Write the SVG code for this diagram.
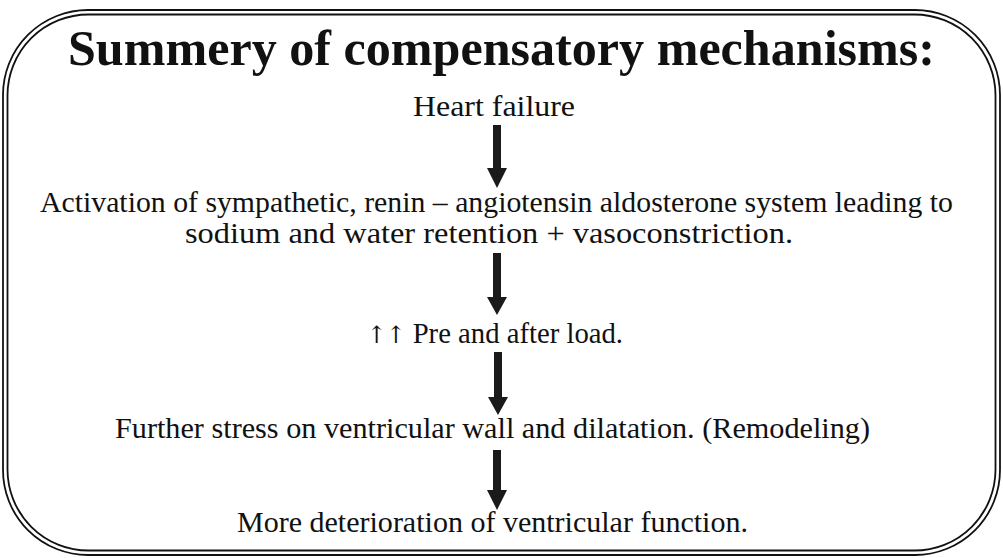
<svg xmlns="http://www.w3.org/2000/svg" width="1003" height="558" viewBox="0 0 1003 558">
<style>
.frame{fill:none;stroke:#111;stroke-width:1.8}
.t{font-family:"Liberation Serif","Times New Roman",serif;font-size:30px;fill:#111}
.sym{font-family:"DejaVu Serif","DejaVu Sans",serif;font-size:24px;fill:#111}
.title{font-family:"Liberation Serif","Times New Roman",serif;font-size:50px;font-weight:bold;fill:#111}
.arr{fill:#1a1a1a}
</style>
<rect width="1003" height="558" fill="#fff"/>
<g id="frame">
<rect class="frame" x="3" y="10" width="997" height="545" rx="85" ry="85"/>
<rect class="frame" x="7.5" y="14.5" width="988" height="536" rx="81" ry="81"/>
</g>
<g id="title"><text class="title" x="68" y="65" textLength="867" lengthAdjust="spacingAndGlyphs">Summery of compensatory mechanisms:</text></g>
<g id="n1"><text class="t" x="413" y="116" textLength="162" lengthAdjust="spacingAndGlyphs">Heart failure</text></g>
<g id="n2"><text class="t" x="40" y="212" textLength="913" lengthAdjust="spacingAndGlyphs">Activation of sympathetic, renin – angiotensin aldosterone system leading to</text>
<text class="t" x="185" y="243" textLength="608" lengthAdjust="spacingAndGlyphs">sodium and water retention + vasoconstriction.</text></g>
<g id="n3"><text class="t" x="367" y="343" textLength="256" lengthAdjust="spacingAndGlyphs"><tspan class="sym">↑↑</tspan> Pre and after load.</text></g>
<g id="n4"><text class="t" x="115" y="438" textLength="755" lengthAdjust="spacingAndGlyphs">Further stress on ventricular wall and dilatation. (Remodeling)</text></g>
<g id="n5"><text class="t" x="237" y="532" textLength="511" lengthAdjust="spacingAndGlyphs">More deterioration of ventricular function.</text></g>
<g id="connectors">
<polygon class="arr" points="493,125 501,125 501,168 507,168 497,188 487,168 493,168"/>
<polygon class="arr" points="493,253 501,253 501,297 507,297 497,315 487,297 493,297"/>
<polygon class="arr" points="494,352 502,352 502,397 508,397 498,415 488,397 494,397"/>
<polygon class="arr" points="493,450 501,450 501,490 507,490 497,510 487,490 493,490"/>
</g>
</svg>
